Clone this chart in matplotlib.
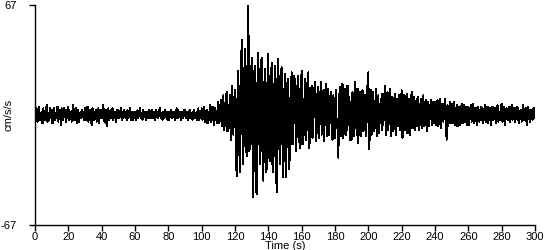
import matplotlib
matplotlib.use("Agg")
import matplotlib.pyplot as plt
import numpy as np

plt.rcParams['font.family'] = ['Liberation Sans', 'DejaVu Sans']

# accélération (cm/s/s), deux points par seconde (une ligne = 10 s)
acc = [
    3, -2, 4, -4, 1, 5, -3, -1, 2, -5, 4, -2, -3, 3, 6, -4, 1, -3, 4, -2,
    3, -5, 2, 4, -3, 1, -2, 5, -4, 2, 3, -6, 4, -1, -3, 4, 2, -4, 3, -2,
    5, -3, 1, 2, -4, 3, 6, -3, -2, 4, -5, 2, 3, -4, 1, -2, 3, -1, 2, -3,
    4, -3, 2, 5, -4, -1, 3, -2, -6, 4, 2, -3, 1, 3, -4, 2, 4, -5, 3, -2,
    3, -2, 6, -4, 1, 3, -7, 2, 4, -3, -1, 3, -2, 4, -3, 1, 2, -4, 3, -2,
    3, -2, 1, 4, -3, 2, -2, 3, -1, 2, -3, 3, -2, 1, 4, -3, 2, -1, -3, 2,
    2, -3, 1, 3, -2, 2, 4, -2, 1, -3, 3, -1, 2, -3, 2, -2, 1, 3, -2, 2,
    3, -2, 1, 2, -3, 3, -1, 2, -2, 3, 4, -2, 1, -3, 2, -2, 3, -1, 2, -3,
    2, -3, 1, 3, -2, 2, -1, 2, -3, 1, 4, -2, 3, -1, 2, -3, 1, 2, -2, 3,
    3, -2, 2, -1, -3, 2, 3, -2, 1, -3, 2, 3, -2, 1, -3, 2, 4, -3, 2, -2,
    4, -3, 2, 5, -4, 1, 3, -5, 2, -3, 6, -4, 1, 5, -3, -6, 4, 2, -5, 3,
    8, -5, 3, 9, -7, 2, 12, -9, -4, 10, 14, -10, 6, -8, 12, -15, 18, -6, -12, 9,
    15, -20, -37, 10, 27, -18, -35, 14, 46, -12, -30, 22, 40, -15, -25, 30, 67, -22, -20, 12,
    35, -18, -50, 25, 30, -45, -48, 20, 38, -10, -30, 28, 35, -22, -40, 15, 28, -35, -33, 20,
    37, -25, -28, 18, 32, -30, -35, 12, 30, -20, -47, 22, 34, -15, -30, 26, 29, -18, -38, 10,
    25, -38, -15, 20, 22, -33, -20, 12, 26, -18, -10, 24, 20, -22, -12, 18, 24, -15, -20, 14,
    27, -18, 10, -12, 22, -15, -8, 20, 26, -20, -14, 12, 18, -14, -6, 15, 20, -16, -10, 13,
    17, -14, 6, 20, -12, -8, 15, -16, 10, 19, -13, -5, 16, -12, 8, 14, -10, -15, 12, 6,
    -14, 15, -6, -8, -26, 10, 17, -13, 5, 19, -14, -4, 16, -12, -9, 18, -6, 11, -15, 8,
    -15, 14, -7, -13, 20, 6, -12, 16, -17, 4, 14, -13, 8, 15, -10, -6, 12, -13, 18, -4,
    26, -21, -8, 15, -12, 6, 14, -10, -5, 16, -13, 9, 12, -11, 3, 10, -9, 13, -6, 8,
    18, -12, -4, 14, -9, 7, 16, -13, 5, 11, -10, -3, 13, -12, 8, 10, -7, 12, -9, 4,
    15, -14, -5, 12, -9, 6, 13, -11, -4, 10, -12, 7, 14, -8, -6, 11, -9, 5, 10, -7,
    11, -9, -3, 10, -8, 4, 12, -7, -5, 9, -10, 6, 8, -7, 3, 9, -6, -4, 8, -5,
    8, -6, 3, 9, -7, -2, 10, -8, 5, 7, -4, 3, 10, -6, -15, 6, -7, 2, 8, -5,
    7, -5, 3, 8, -6, -2, 6, -7, 4, 5, -6, 2, 7, -5, -3, 6, -4, 5, -6, 3,
    5, -6, 2, 6, -4, 3, 7, -5, -2, 4, -6, 3, 5, -4, -2, 5, -3, 4, -5, 2,
    6, -4, 1, 5, -5, 3, 4, -6, 2, 5, -3, -2, 4, -5, 3, 6, -4, 2, -3, 4,
    7, -4, 2, 5, -6, 3, 4, -3, -2, 5, -4, 3, 6, -3, -1, 4, -4, 2, 5, -3,
    4, -5, 2, 3, -4, 1, 6, -3, -2, 4, -6, 3, 5, -2, -4, 3, 2, -3, 4, -2,
    4,
]
duree = 300.0
temps = np.linspace(0, duree, len(acc))

x_ticks = list(range(0, 301, 20))
y_max = 67

fig = plt.figure(figsize=(5.5, 2.5), dpi=100)
ax = fig.add_axes([35/550, 25/250, 500/550, 220/250])

ax.plot(temps, acc, color='black', lw=0.72, antialiased=False)

ax.set_xlim(0, duree)
ax.set_ylim(-y_max, y_max)
ax.set_xticks(x_ticks)
ax.set_yticks([-y_max, y_max])
ax.set_yticklabels([str(-y_max), str(y_max)])
ax.tick_params(axis='x', direction='out', length=4, width=1, labelsize=8, pad=1)
ax.tick_params(axis='y', direction='out', length=4, width=1, labelsize=8, pad=9)

for s in ['top', 'right']:
    ax.spines[s].set_visible(False)
for s in ['left', 'bottom']:
    ax.spines[s].set_linewidth(1)

ax.set_xlabel('Time (s)', fontsize=8, labelpad=-1)
ax.set_ylabel('cm/s/s', fontsize=8)
ax.yaxis.set_label_coords(-0.042, 0.5)

fig.savefig('out.png', dpi=100)
